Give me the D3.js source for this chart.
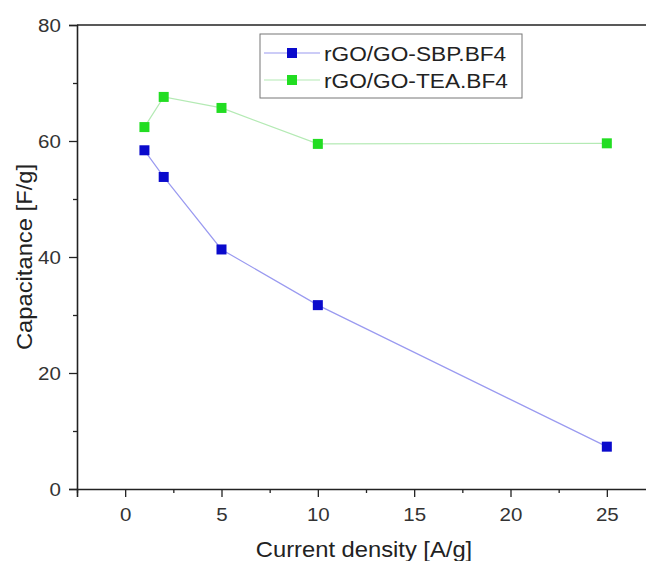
<!DOCTYPE html>
<html>
<head>
<meta charset="utf-8">
<script src="https://cdn.jsdelivr.net/npm/d3@7"></script>
<style>
  body { margin: 0; background: #fff; }
  svg { display: block; font-family: "Liberation Sans", Arial, sans-serif; }
</style>
</head>
<body>
<div id="chart"></div>
<script>
(function() {
    'use strict';

    // data
    const density = [1, 2, 5, 10, 25];
    const sbp = [58.4, 53.8, 41.3, 31.7, 7.3];
    const tea = [62.4, 67.6, 65.7, 59.5, 59.6];
    const seriesNames = ["rGO/GO-SBP.BF4", "rGO/GO-TEA.BF4"];
    const xTicks = [0, 5, 10, 15, 20, 25];
    const yTicks = [0, 20, 40, 60, 80];

    const width = 646, height = 561;
    const margin = {left: 77, top: 25};
    const plotW = 578, plotH = 464; // right edge runs off the picture
    const stretch = 1.08; // the original text is a bit wide

    const svg = d3.select("#chart")
        .append("svg")
        .attr("width", width)
        .attr("height", height);

    const x = d3.scaleLinear().domain([-2.5, 27.5]).range([margin.left, margin.left + plotW]);
    const y = d3.scaleLinear().domain([0, 80]).range([margin.top + plotH, margin.top]);

    // top frame line
    const axisColor = "#222";
    svg.append("line").attr("x1", x(-2.5)).attr("x2", x(27.5)).attr("y1", y(80)).attr("y2", y(80))
        .attr("stroke", axisColor).attr("stroke-width", 1.6);

    // x axis
    svg.append("g")
        .attr("transform", `translate(0,${y(0)})`)
        .call(d3.axisBottom(x).tickValues(xTicks).tickSize(8).tickPadding(11).tickFormat(d3.format("d")));
    svg.append("g")
        .attr("transform", `translate(0,${y(0)})`)
        .call(d3.axisBottom(x).tickValues(d3.range(-2.5, 27.6, 5)).tickSize(4).tickFormat(""))
        .select(".domain").remove();

    // y axis
    svg.append("g")
        .attr("transform", `translate(${x(-2.5)},0)`)
        .call(d3.axisLeft(y).tickValues(yTicks).tickSize(8).tickPadding(7).tickFormat(d3.format("d")));
    svg.append("g")
        .attr("transform", `translate(${x(-2.5)},0)`)
        .call(d3.axisLeft(y).tickValues([10, 30, 50, 70]).tickSize(4).tickFormat(""))
        .select(".domain").remove();

    svg.selectAll(".domain").attr("stroke", axisColor).attr("stroke-width", 1.6);
    svg.selectAll(".tick line").attr("stroke", axisColor).attr("stroke-width", 1.3);
    svg.selectAll(".tick text").attr("font-size", 19).attr("fill", "#333")
        .attr("font-family", "'Liberation Sans', Arial, sans-serif")
        .attr("transform", `scale(${stretch},1)`);

    // axis titles
    svg.append("text")
        .attr("transform", `translate(364,557) scale(${stretch},1)`)
        .attr("text-anchor", "middle")
        .attr("font-size", 22).attr("fill", "#222")
        .text("Current density [A/g]");
    svg.append("text")
        .attr("transform", `translate(32,${y(40)}) rotate(-90) scale(${stretch},1)`)
        .attr("text-anchor", "middle")
        .attr("font-size", 22).attr("fill", "#222")
        .text("Capacitance [F/g]");

    const series = [
        {name: seriesNames[0], values: sbp, line: "#9a9af0", fill: "#0a0acc"},
        {name: seriesNames[1], values: tea, line: "#b4eab4", fill: "#22dd22"}
    ];

    const line = d3.line().x((d, i) => x(density[i])).y(d => y(d));

    series.forEach(s => {
        svg.append("path")
            .attr("d", line(s.values))
            .attr("fill", "none")
            .attr("stroke", s.line)
            .attr("stroke-width", 1.2);
        svg.selectAll(null)
            .data(s.values)
            .enter()
            .append("rect")
            .attr("x", (d, i) => x(density[i]) - 5)
            .attr("y", d => y(d) - 5)
            .attr("width", 10)
            .attr("height", 10)
            .attr("fill", s.fill);
    });

    // legend
    const lg = svg.append("g").attr("transform", "translate(260,34)");
    lg.append("rect").attr("width", 262).attr("height", 64)
        .attr("fill", "#fff").attr("stroke", "#777").attr("stroke-width", 1);
    series.forEach((s, i) => {
        const ly = 19 + i * 27;
        lg.append("line").attr("x1", 4).attr("x2", 60).attr("y1", ly).attr("y2", ly)
            .attr("stroke", s.line).attr("stroke-width", 1.2);
        lg.append("rect").attr("x", 27).attr("y", ly - 5).attr("width", 10).attr("height", 10)
            .attr("fill", s.fill);
        lg.append("text")
            .attr("transform", `translate(64,${ly + 8}) scale(${stretch},1)`)
            .attr("font-size", 21).attr("fill", "#222")
            .text(s.name);
    });
})();
</script>
</body>
</html>
